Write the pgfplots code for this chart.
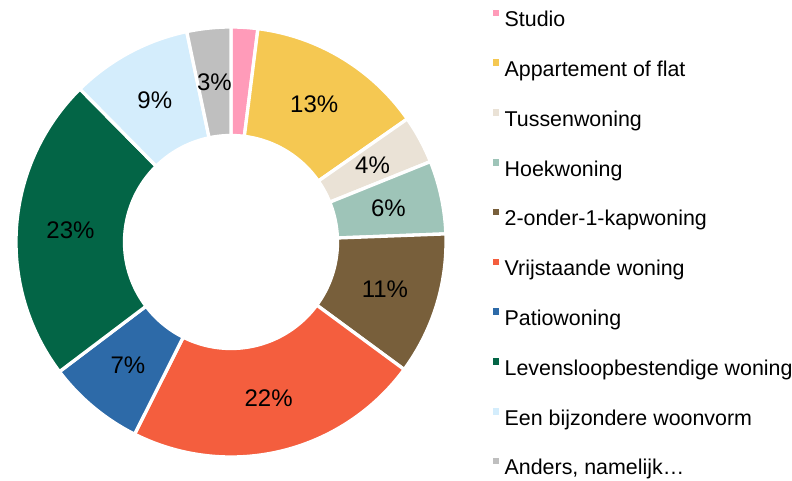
\documentclass[border=0pt]{standalone}
\usepackage{fontspec}
\setmainfont{Liberation Sans}
\usepackage{pgfplots}
\pgfplotsset{compat=1.18}
\definecolor{cStudio}{HTML}{FF9BB9}
\definecolor{cApp}{HTML}{F5C852}
\definecolor{cTuss}{HTML}{EAE2D6}
\definecolor{cHoek}{HTML}{9EC4B8}
\definecolor{cTwee}{HTML}{785F3B}
\definecolor{cVrij}{HTML}{F45E3E}
\definecolor{cPatio}{HTML}{2D6AA8}
\definecolor{cLevens}{HTML}{036546}
\definecolor{cBijz}{HTML}{D4EDFC}
\definecolor{cAnders}{HTML}{BFBFBF}
\newcommand{\labelfont}{\fontsize{24}{28}\selectfont}
\def\cumval{0}
% #1 colour, #2 value (percent), #3 label number (empty = none), #4 legend text
\newcommand{\donutslice}[4]{%
  \pgfmathsetmacro{\aS}{90-3.6*\cumval}%
  \pgfmathsetmacro{\aE}{90-3.6*(\cumval+#2)}%
  \pgfmathsetmacro{\aD}{\aE-\aS}%
  \pgfmathsetmacro{\aM}{(\aS+\aE)/2}%
  \pgfmathsetmacro{\lx}{231+161*cos(\aM)}%
  \pgfmathsetmacro{\ly}{238+161*sin(\aM)}%
  \pgfmathsetmacro{\newcum}{\cumval+#2}%
  \xdef\cumval{\newcum}%
  \edef\tmp{\noexpand\addplot[fill=#1, draw=white, line width=3.3pt, domain=0:2, samples=201, variable=\noexpand\t]
    ({231+ifthenelse(\noexpand\t<1.005,215,106.5)*cos(ifthenelse(\noexpand\t<1.005,\aS+(\aD)*\noexpand\t,\aE-(\aD)*max(0,\noexpand\t-1.01)/0.99))},
     {238+ifthenelse(\noexpand\t<1.005,215,106.5)*sin(ifthenelse(\noexpand\t<1.005,\aS+(\aD)*\noexpand\t,\aE-(\aD)*max(0,\noexpand\t-1.01)/0.99))}) -- cycle;}%
  \tmp
  \addlegendentry{#4}%
  \if\relax\detokenize{#3}\relax\else
    \edef\tmp{\noexpand\node[font=\noexpand\labelfont, inner sep=0pt] at (axis cs:\lx,\ly) {#3\noexpand\%};}%
    \tmp
  \fi
}
\begin{document}
\begin{tikzpicture}
\useasboundingbox (0,0) rectangle (792pt,480pt);
\begin{axis}[
  at={(0,0)}, anchor=south west,
  width=792pt, height=480pt, scale only axis,
  xmin=0, xmax=792, ymin=0, ymax=480,
  hide axis, clip=false,
  legend cell align=left,
  legend style={at={(axis cs:491,472)}, anchor=north west, draw=none, fill=none,
    inner sep=0pt, outer sep=0pt, row sep=29.7pt, column sep=5.5pt,
    font=\fontsize{21.4}{25}\selectfont,
    nodes={inner sep=0pt},
    every even column/.append style={text height=16pt, text depth=5pt}},
  legend image code/.code={\path (0pt,1.05pt) -- (0pt,9.95pt);
    \fill[#1, draw=none] (0pt,3.45pt) rectangle (6.5pt,9.95pt);},
]
\donutslice{cStudio}{2.0}{}{Studio}
\donutslice{cApp}{13.3}{13}{Appartement of flat}
\donutslice{cTuss}{3.6}{4}{Tussenwoning}
\donutslice{cHoek}{5.5}{6}{Hoekwoning}
\donutslice{cTwee}{10.7}{11}{2-onder-1-kapwoning}
\donutslice{cVrij}{22.3}{22}{Vrijstaande woning}
\donutslice{cPatio}{7.3}{7}{Patiowoning}
\donutslice{cLevens}{22.9}{23}{Levensloopbestendige woning}
\donutslice{cBijz}{9.1}{9}{Een bijzondere woonvorm}
\donutslice{cAnders}{3.3}{3}{Anders, namelijk…}
\end{axis}
\end{tikzpicture}
\end{document}
